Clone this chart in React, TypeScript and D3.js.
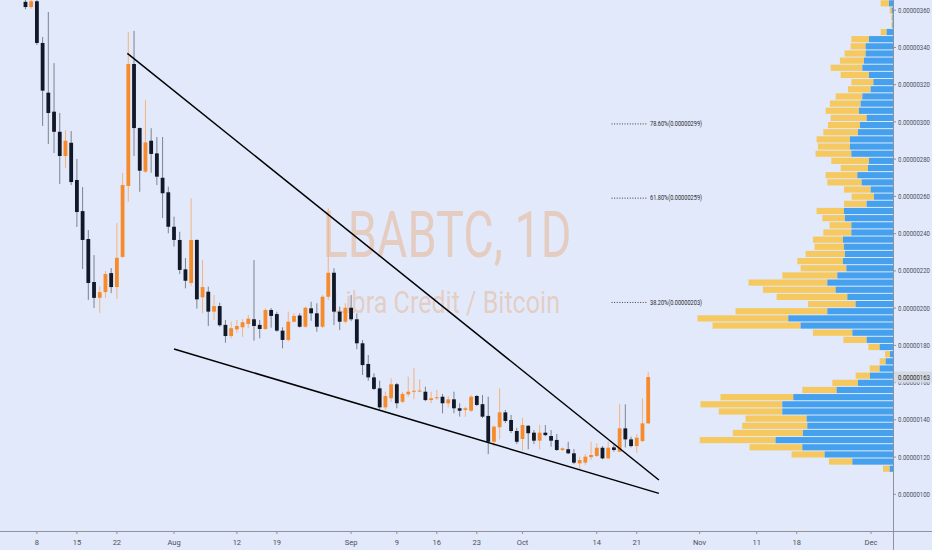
import { useEffect, useRef } from 'react';
import * as d3 from 'd3';

// Prices are in satoshi (1e-8 BTC). Daily candles starting at firstDay.
const firstDay = '2019-07-06';

const opens = [
  364.5, 361.7, 364.8, 342.4, 315.7, 305.5, 294.7, 281.7, 288.8, 268.8, 252.1, 237.1, 214.0, 205.5, 208.6, 218.8, 211.3, 227.5, 265.6, 331.1, 296.7, 273.3, 289.9, 283.1, 270.0, 262.2,
  243.7, 236.6, 220.8, 213.5, 236.6, 205.8, 208.8, 198.1, 201.1, 191.0, 185.0, 188.6, 189.7, 191.5, 194.0, 191.0, 188.8, 199.0, 196.8, 187.9, 182.9, 192.7, 196.0, 190.0, 199.9, 197.2, 190.0, 206.1, 219.0, 198.1, 192.7,
  200.2, 194.0, 181.1, 170.0, 162.8, 156.9, 146.7, 151.6, 159.1, 149.7, 153.7, 155.1, 155.3, 155.1, 150.6, 151.6, 152.4, 148.9, 151.0, 146.2, 145.3, 144.9, 152.8, 148.4, 142.1, 128.2, 136.0, 144.0, 139.9, 134.0,
  129.7, 136.8, 133.1, 128.8, 133.1, 131.3, 129.2, 123.8, 124.2, 122.0, 116.6, 117.0, 119.9, 120.6, 125.0, 119.3, 125.2, 122.9, 135.4, 129.5, 125.9, 128.6, 138.1,
];
const highs = [
  365.6, 365.6, 365.6, 345.6, 359.0, 331.6, 304.8, 295.6, 295.1, 280.1, 265.0, 241.9, 228.5, 211.8, 219.9, 221.5, 245.7, 272.6, 348.3, 348.9, 297.0, 311.8, 296.6, 291.9, 291.9, 265.2,
  249.1, 241.0, 226.9, 259.0, 237.0, 225.8, 211.5, 207.0, 202.9, 193.6, 192.7, 193.6, 194.0, 196.3, 225.8, 193.6, 199.9, 200.0, 198.0, 189.7, 198.1, 197.2, 197.2, 200.8, 203.4, 202.6, 207.0, 253.6, 221.4, 200.8, 202.6,
  207.0, 197.2, 182.9, 174.8, 165.0, 161.0, 155.1, 162.3, 159.8, 155.0, 163.2, 168.0, 161.8, 157.8, 155.1, 156.0, 153.9, 152.8, 155.1, 148.9, 147.0, 153.3, 153.3, 153.3, 152.4, 137.2, 156.9, 145.3, 142.6, 135.7,
  141.1, 137.2, 134.5, 137.2, 137.2, 134.5, 132.4, 125.2, 128.2, 124.3, 120.2, 121.6, 128.2, 127.4, 125.9, 128.2, 126.5, 148.5, 148.3, 130.9, 132.4, 151.6, 165.8,
];
const lows = [
  360.5, 360.8, 341.3, 297.8, 288.1, 283.3, 266.6, 275.2, 266.1, 243.6, 221.0, 204.4, 200.1, 197.4, 205.5, 208.0, 204.9, 227.0, 257.1, 281.7, 262.5, 272.6, 272.7, 266.1, 248.4, 240.2,
  233.0, 218.3, 210.6, 211.9, 199.7, 197.2, 190.4, 193.6, 190.0, 181.4, 183.8, 186.8, 184.6, 189.2, 182.5, 183.8, 188.2, 189.5, 187.3, 178.4, 182.0, 192.2, 189.5, 189.5, 193.2, 187.3, 189.3, 204.4, 190.9, 188.2, 191.8,
  193.0, 177.9, 164.1, 161.0, 156.0, 145.8, 145.3, 149.7, 146.2, 149.0, 152.4, 151.0, 154.8, 150.0, 148.9, 150.8, 143.5, 146.7, 143.5, 141.7, 141.7, 144.2, 147.4, 141.0, 121.6, 125.6, 129.5, 138.3, 132.9, 127.0,
  123.4, 124.2, 127.0, 124.2, 131.2, 125.6, 123.3, 123.2, 121.6, 116.2, 113.4, 115.7, 118.4, 120.0, 118.8, 118.8, 122.9, 122.5, 125.2, 125.2, 122.3, 128.0, 137.8,
];
const closes = [
  361.7, 364.8, 342.4, 316.8, 304.8, 294.7, 281.7, 289.9, 267.7, 251.6, 236.6, 213.5, 205.5, 208.6, 218.3, 211.3, 227.0, 266.1, 331.1, 296.7, 273.8, 289.0, 282.8, 270.6, 261.7, 243.7,
  236.6, 220.5, 214.7, 236.6, 204.7, 211.3, 198.1, 201.1, 190.8, 185.0, 189.2, 190.4, 192.4, 194.3, 190.4, 188.8, 199.0, 195.8, 187.9, 182.9, 192.7, 195.8, 190.0, 200.2, 197.2, 190.0, 206.1, 219.0, 198.1, 192.7, 200.2,
  194.0, 181.1, 169.4, 162.8, 156.6, 146.7, 152.8, 159.1, 148.9, 153.9, 155.1, 155.6, 155.7, 150.6, 151.6, 152.1, 148.9, 151.0, 146.2, 144.9, 146.2, 152.4, 148.0, 141.7, 128.2, 136.3, 144.0, 139.4, 134.0, 128.2,
  137.2, 132.8, 128.8, 133.1, 131.8, 128.8, 123.8, 124.7, 122.0, 117.0, 118.4, 120.2, 121.1, 125.0, 119.3, 125.0, 123.8, 135.4, 129.5, 125.9, 130.4, 138.1, 163.0,
];

// Visible range volume profile, rows top -> bottom
const profileHigh = 365.6;
const profileLow = 111.8;
const upVolume = [
  4, 1.3, 0.6, 0.6, 6.3, 24, 27.3, 27.3, 29, 30.6, 24, 19.6, 22.3, 30.6, 32.3, 34, 26.3, 33, 35, 43,
  43, 41.6, 24, 25, 35.6, 31.3, 22.3, 19, 26.3, 49, 48, 41.6, 41.6, 50, 49, 48, 50, 46.6, 55.6, 65.6,
  57.3, 45.6, 37.3, 65.6, 104.6, 92.3, 40.6, 26.3, 13.3, 3, 7.3, 13.3, 23, 35, 56.3, 99.6, 110.6, 110.6, 86.3, 85.6,
  90, 117.3, 90.6, 68.3, 40.6, 3.3,
];
const downVolume = [
  8.3, 2, 1, 1, 6, 17.6, 15, 21, 24, 31.7, 28.3, 22, 22.7, 26.7, 30.7, 33.3, 36, 32, 34.6, 33.3,
  32, 35.7, 37.6, 27.3, 31.7, 34.3, 26.7, 22.3, 22.7, 27.3, 22.6, 21.7, 28, 30, 29.3, 39.3, 45.6, 45.7, 55, 78.7,
  72.7, 70.7, 47.7, 91.7, 90.7, 88, 39.4, 23.3, 11.3, 5, 6, 10, 14.3, 25.6, 34.3, 72.7, 81.7, 63.4, 61, 65,
  70, 75.7, 52.7, 33, 23.4, 6.7,
];

// Fib retracement anchors and shown levels
const fibHigh = 349.7;
const fibLow = 112.4;
const fibLevels = [0.786, 0.618, 0.382];
const fibSpan = ['2019-10-16T14:00Z', '2019-10-22T19:00Z'];

// Wedge trend lines [date, price]
const upperTrend: [string, number][] = [['2019-07-23T20:00Z', 336.8], ['2019-10-24T21:00Z', 107.7]];
const lowerTrend: [string, number][] = [['2019-08-01T00:00Z', 178.0], ['2019-10-24T21:00Z', 100.5]];

const priceTicks = [100, 120, 140, 160, 180, 200, 220, 240, 260, 280, 300, 320, 340, 360];
const dateTicks: [string, string][] = [
  ['2019-07-08', '8'], ['2019-07-15', '15'], ['2019-07-22', '22'], ['2019-08-01', 'Aug'],
  ['2019-08-12', '12'], ['2019-08-19', '19'], ['2019-09-01', 'Sep'], ['2019-09-09', '9'],
  ['2019-09-16', '16'], ['2019-09-23', '23'], ['2019-10-01', 'Oct'], ['2019-10-14', '14'],
  ['2019-10-21', '21'], ['2019-11-01', 'Nov'], ['2019-11-11', '11'], ['2019-11-18', '18'],
  ['2019-12-01', 'Dec'],
];

const W = 932;
const H = 550;
const FONT = "Roboto, 'Liberation Sans', sans-serif";
const fmtPrice = (v: number) => (v * 1e-8).toFixed(8);

export default function App() {
  const svgRef = useRef<SVGSVGElement>(null);

  useEffect(() => {
    if (!svgRef.current) return;
    document.body.style.margin = '0';

    const svg = d3.select(svgRef.current);
    svg.selectAll('*').remove();

    const plotRight = 893;
    const plotBottom = 531;

    const x = d3
      .scaleUtc()
      .domain([new Date('2019-07-08'), new Date('2019-12-01')])
      .range([36.9, 871]);
    const y = d3.scaleLinear().domain([100, 360]).range([494.3, 10.2]);

    svg.append('rect').attr('width', W).attr('height', H).attr('fill', '#e1e9fb');

    svg
      .append('defs')
      .append('clipPath')
      .attr('id', 'plot-clip')
      .append('rect')
      .attr('width', plotRight)
      .attr('height', plotBottom);

    const plot = svg.append('g').attr('clip-path', 'url(#plot-clip)');

    // Watermark
    plot
      .append('text')
      .attr('x', 447)
      .attr('y', 257)
      .attr('text-anchor', 'middle')
      .attr('font-family', FONT)
      .attr('font-size', 64)
      .attr('textLength', 249)
      .attr('lengthAdjust', 'spacingAndGlyphs')
      .attr('fill', '#f07d22')
      .attr('fill-opacity', 0.27)
      .text('LBABTC, 1D');
    plot
      .append('text')
      .attr('x', 446)
      .attr('y', 313)
      .attr('text-anchor', 'middle')
      .attr('font-family', FONT)
      .attr('font-size', 32)
      .attr('textLength', 228)
      .attr('lengthAdjust', 'spacingAndGlyphs')
      .attr('fill', '#f07d22')
      .attr('fill-opacity', 0.27)
      .text('Libra Credit / Bitcoin');

    // Volume profile
    const nRows = upVolume.length;
    const step = (profileHigh - profileLow) / nRows;
    const totals = upVolume.map((u, i) => u + downVolume[i]);
    const vx = d3.scaleLinear().domain([0, d3.max(totals) || 1]).range([0, 195.5]);
    const vp = plot.append('g');
    upVolume.forEach((u, i) => {
      const top = y(profileHigh - i * step);
      const bot = y(profileHigh - (i + 1) * step);
      const h = Math.max(bot - top - 1, 0.5);
      vp.append('rect')
        .attr('x', plotRight - vx(u + downVolume[i]))
        .attr('y', top + 0.5)
        .attr('width', vx(downVolume[i]))
        .attr('height', h)
        .attr('fill', '#f5c95f');
      vp.append('rect')
        .attr('x', plotRight - vx(u))
        .attr('y', top + 0.5)
        .attr('width', vx(u))
        .attr('height', h)
        .attr('fill', '#45a0ee');
    });

    // Candles
    const start = new Date(firstDay);
    const data = opens.map((o, i) => ({
      date: d3.utcDay.offset(start, i),
      o,
      h: highs[i],
      l: lows[i],
      c: closes[i],
    }));
    const bodyW = 3.8;
    const cg = plot.append('g');
    data.forEach((d) => {
      const up = d.c >= d.o;
      const cx = x(d.date);
      cg.append('line')
        .attr('x1', cx)
        .attr('x2', cx)
        .attr('y1', y(d.h))
        .attr('y2', y(d.l))
        .attr('stroke', up ? '#f5b37e' : '#7d828d')
        .attr('stroke-width', 1);
      const yt = y(Math.max(d.o, d.c));
      const yb = y(Math.min(d.o, d.c));
      cg.append('rect')
        .attr('x', cx - bodyW / 2)
        .attr('y', yt)
        .attr('width', bodyW)
        .attr('height', Math.max(yb - yt, 1))
        .attr('fill', up ? '#f68b2c' : '#111827');
    });

    // Trend lines
    const line = d3
      .line<[string, number]>()
      .x((d) => x(new Date(d[0])))
      .y((d) => y(d[1]));
    [upperTrend, lowerTrend].forEach((t) => {
      plot
        .append('path')
        .attr('d', line(t))
        .attr('fill', 'none')
        .attr('stroke', '#000')
        .attr('stroke-width', 1.5);
    });

    // Fib levels
    const fx0 = x(new Date(fibSpan[0]));
    const fx1 = x(new Date(fibSpan[1]));
    fibLevels.forEach((r) => {
      const p = fibLow + r * (fibHigh - fibLow);
      const yy = y(p);
      plot
        .append('line')
        .attr('x1', fx0)
        .attr('x2', fx1)
        .attr('y1', yy)
        .attr('y2', yy)
        .attr('stroke', '#3a3a3a')
        .attr('stroke-width', 1)
        .attr('stroke-dasharray', '1,1.6');
      plot
        .append('text')
        .attr('x', fx1 + 3)
        .attr('y', yy)
        .attr('dy', '0.35em')
        .attr('font-family', FONT)
        .attr('font-size', 6.5)
        .attr('textLength', 52)
        .attr('lengthAdjust', 'spacingAndGlyphs')
        .attr('fill', '#2a2a2a')
        .text(`${(r * 100).toFixed(2)}%(${fmtPrice(Math.round(p))})`);
    });

    // Axes
    const axisColor = '#8e929c';
    const labelColor = '#4c505a';
    svg.append('line')
      .attr('x1', plotRight + 0.5).attr('x2', plotRight + 0.5)
      .attr('y1', 0).attr('y2', H)
      .attr('stroke', axisColor);
    svg.append('line')
      .attr('x1', 0).attr('x2', W)
      .attr('y1', plotBottom + 0.5).attr('y2', plotBottom + 0.5)
      .attr('stroke', axisColor);

    const ya = svg.append('g');
    priceTicks.forEach((p) => {
      const yy = y(p);
      ya.append('line')
        .attr('x1', plotRight).attr('x2', plotRight + 3)
        .attr('y1', yy).attr('y2', yy)
        .attr('stroke', axisColor);
      ya.append('text')
        .attr('x', plotRight + 5)
        .attr('y', yy)
        .attr('dy', '0.35em')
        .attr('font-family', FONT)
        .attr('font-size', 7.5)
        .attr('textLength', 32)
        .attr('lengthAdjust', 'spacingAndGlyphs')
        .attr('fill', labelColor)
        .text(fmtPrice(p));
    });

    const xa = svg.append('g');
    dateTicks.forEach(([d, label]) => {
      const xx = x(new Date(d));
      xa.append('line')
        .attr('x1', xx).attr('x2', xx)
        .attr('y1', plotBottom).attr('y2', plotBottom + 3)
        .attr('stroke', axisColor);
      xa.append('text')
        .attr('x', xx)
        .attr('y', plotBottom + 11)
        .attr('dy', '0.35em')
        .attr('text-anchor', 'middle')
        .attr('font-family', FONT)
        .attr('font-size', 7.5)
        .attr('fill', labelColor)
        .text(label);
    });

    // Last price label
    const last = closes[closes.length - 1];
    const ly = y(last);
    svg.append('rect')
      .attr('x', plotRight + 1)
      .attr('y', ly - 5.5)
      .attr('width', 38)
      .attr('height', 11)
      .attr('fill', '#d5dae3');
    svg.append('text')
      .attr('x', plotRight + 5)
      .attr('y', ly)
      .attr('dy', '0.35em')
      .attr('font-family', FONT)
      .attr('font-size', 7.5)
      .attr('textLength', 32)
      .attr('lengthAdjust', 'spacingAndGlyphs')
      .attr('fill', '#1c1f26')
      .text(fmtPrice(Math.round(last)));
  }, []);

  return (
    <svg
      ref={svgRef}
      width={W}
      height={H}
      style={{ position: 'absolute', left: 0, top: 0, display: 'block' }}
    />
  );
}
